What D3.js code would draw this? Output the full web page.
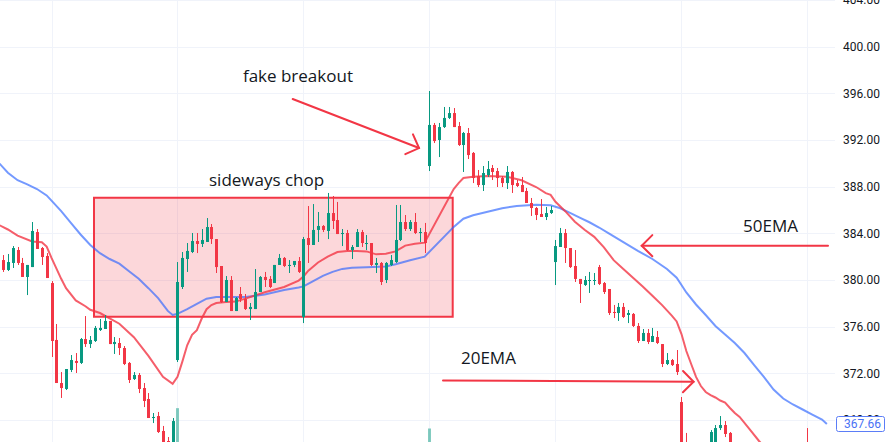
<!DOCTYPE html>
<html><head><meta charset="utf-8">
<script src="https://cdn.jsdelivr.net/npm/d3@7"></script>
<style>html,body{margin:0;padding:0;background:#fff;overflow:hidden}</style>
</head><body><svg id="c" width="886" height="442"></svg>
<script>
// ---- data (15-minute candles, index = bar number) ----
const openP=[381.71,380.86,381.46,382.57,381.46,380.26,381.11,384.11,382.74,382.06,
379.74,374.86,371.17,370.66,372.29,373.06,372.89,374.94,374.51,374.77,
375.71,375.80,376.49,374.51,374.60,374.17,372.89,371.51,371.86,370.74,
369.80,368.17,368.34,367.06,366.20,365.43,373.14,379.40,381.80,382.40,
383.34,383.09,383.26,384.54,383.51,381.20,378.11,380.00,377.34,378.80,
378.37,377.51,377.51,378.97,380.26,380.09,379.74,381.29,381.89,381.20,
381.29,381.63,376.83,383.60,383.00,384.29,384.63,384.20,385.74,385.14,
383.94,384.03,382.57,382.83,384.11,383.09,383.17,381.29,381.46,380.00,
381.29,381.54,383.43,384.97,384.37,384.97,384.07,384.11,389.77,393.29,
392.00,393.11,393.89,394.31,393.20,391.57,392.60,390.89,388.91,388.14,
389.00,389.60,389.34,388.74,388.31,389.26,388.31,388.14,387.63,386.60,
386.17,385.66,385.40,385.74,381.54,382.83,384.03,382.74,381.20,380.09,
379.57,379.96,379.96,381.11,379.74,379.23,377.26,377.17,377.69,377.00,
377.09,376.06,374.77,375.46,374.69,375.11,374.51,372.80,373.14,372.80,
369.54,364.40,363.71,364.74,363.89,365.00,365.00,365.43,367.31,367.57,
366.89,365.43,364.40,365.00,363.89,362.86,363.71,362.43,361.57,362.43,
361.83,361.14,362.00,361.31,362.17,361.49,365.86,363.71,363.03,363.54,362.60];
const highP=[382.14,382.23,382.91,382.83,381.89,381.29,384.97,384.37,382.83,382.31,
379.91,376.23,372.11,372.37,373.57,373.74,375.03,376.91,375.20,376.06,
376.66,377.00,376.49,375.11,375.03,374.34,372.97,372.11,372.03,371.17,
370.31,368.60,368.69,367.49,366.54,368.17,381.54,382.40,383.17,384.03,
384.03,384.37,385.31,384.80,383.51,381.20,380.34,380.34,378.54,379.40,
378.80,378.03,380.94,380.34,380.69,380.34,381.29,382.23,381.97,381.71,
381.63,381.97,383.69,386.34,386.51,385.83,384.71,387.46,387.20,386.69,
384.37,384.29,383.00,384.37,384.29,383.86,383.17,381.89,381.54,381.54,
382.14,386.43,386.43,385.57,385.14,385.74,384.46,384.89,396.20,393.46,
393.46,394.83,394.83,394.74,393.54,392.69,393.03,390.97,389.43,389.77,
390.20,389.86,389.60,388.91,389.77,389.34,388.57,388.83,387.89,387.03,
386.26,386.94,386.26,386.34,383.43,384.46,384.37,382.74,382.57,380.09,
380.34,380.69,380.60,381.29,379.83,379.23,377.86,378.03,378.03,377.43,
377.17,376.31,375.80,375.80,375.89,375.63,374.51,373.74,373.23,374.00,
369.97,366.89,365.00,365.43,365.60,366.03,367.14,367.57,368.34,367.91,
366.97,365.60,365.43,365.26,364.23,364.14,363.97,362.86,362.86,363.20,
362.17,362.43,362.34,362.51,362.69,362.00,367.31,364.14,363.89,363.71,363.03];
const lowP=[380.69,380.77,381.03,381.29,380.26,378.71,381.11,382.66,381.29,380.17,
373.40,371.17,369.89,370.57,372.11,372.03,372.80,374.26,374.17,374.69,
375.63,375.80,374.51,373.66,373.57,372.71,371.17,371.43,370.31,369.11,
368.17,367.74,366.89,365.43,364.74,365.26,372.97,379.23,380.69,382.31,
382.31,382.83,383.26,383.09,380.60,378.03,378.11,377.34,377.34,378.11,
377.43,376.57,377.51,378.97,379.40,379.31,379.74,381.29,381.11,380.60,
381.11,380.60,376.31,381.46,383.00,383.26,384.11,383.51,384.37,383.94,
382.91,382.49,381.80,382.83,382.83,382.57,381.20,380.60,379.57,379.74,
381.20,381.46,383.34,384.20,384.20,383.94,383.26,382.31,389.34,391.74,
390.54,393.03,393.80,393.11,391.49,389.26,390.37,388.31,387.97,387.63,
388.83,388.57,387.97,387.97,387.80,387.46,387.97,387.54,386.60,385.49,
385.14,385.40,385.14,385.66,379.57,382.83,381.46,381.03,379.83,378.03,
379.49,378.89,379.57,379.57,378.80,377.00,376.74,376.49,376.74,376.31,
375.97,374.60,374.77,374.51,374.69,374.51,372.54,372.71,372.63,371.86,
363.29,363.54,363.29,363.03,363.71,364.60,364.74,365.26,367.14,366.54,
365.00,364.14,364.06,363.54,362.43,362.60,362.00,361.14,361.31,361.49,
360.71,360.97,360.89,361.14,361.14,360.29,363.29,362.43,362.69,362.17,361.83];
const closeP=[380.86,381.54,382.74,381.46,380.26,381.29,384.20,382.66,381.97,380.17,
374.77,371.17,370.74,372.37,373.14,372.89,374.94,374.51,374.86,375.89,
375.89,376.49,374.51,374.69,374.17,372.80,371.43,371.86,370.66,369.63,
368.17,368.26,366.97,365.69,365.00,367.91,379.83,381.89,382.49,383.34,
383.09,383.43,384.54,383.51,381.11,378.11,380.00,377.34,378.46,378.37,
377.51,377.69,378.97,380.26,380.00,379.40,381.29,381.89,381.20,381.29,
381.63,380.69,383.51,383.00,384.29,384.63,384.29,385.74,385.06,383.94,
384.03,382.57,382.83,384.11,383.17,383.17,381.29,381.46,379.83,381.46,
381.71,383.43,384.97,384.37,384.97,384.03,384.11,383.17,393.29,391.91,
393.11,393.89,394.31,393.11,391.57,392.60,390.71,388.74,388.14,389.17,
389.51,389.26,388.74,388.31,389.26,388.14,388.06,387.54,386.60,386.17,
385.57,385.40,385.74,386.00,382.91,384.03,382.74,381.11,380.09,379.66,
380.00,380.00,380.00,379.66,378.97,377.17,377.17,377.69,376.83,377.17,
376.06,374.77,375.46,374.69,375.20,374.60,372.80,373.14,372.71,372.11,
363.71,363.89,364.57,363.71,365.00,365.86,366.97,367.31,367.57,366.80,
365.43,364.40,365.00,363.89,362.86,363.71,362.43,361.57,362.43,361.83,
361.14,362.00,361.31,362.17,361.49,360.71,363.71,363.03,363.54,362.60,362.17];

// volume (millions) – only the session-open bars reach into view
const volIdx=[36,88];
const volume=[2.75,2.25];

// EMA 20 / EMA 50 (bar index, value)
const ema20Idx=[-1,1,3,6,8,9,10,12,13,15,17,18,20,24,27,30,33,35,36,37,38,39,40,41,42,43,44,46,48,50,54,58,61,62,63,65,67,69,71,73,75,77,79,81,83,85,87,93,94,95,97,100,104,107,110,112,113,114,116,118,120,122,124,126,128,130,132,134,136,138,139,140,141,142,143,144,145,146,147,148,149,150,151,152,154,156,158,160,163,166,170];
const ema20=[384.75,384.33,383.80,383.30,383.24,382.86,381.90,380.10,379.30,378.25,377.75,377.45,377.17,376.25,375.10,373.50,371.70,371.10,371.70,373.00,374.40,375.30,375.70,376.70,377.50,377.85,378.03,378.11,378.15,378.40,378.95,379.40,379.95,380.30,380.80,381.50,382.00,382.40,382.49,382.49,382.45,382.20,382.25,382.45,382.95,383.10,383.20,387.80,388.30,388.74,388.85,388.92,388.85,388.55,387.97,387.45,387.30,386.70,385.90,385.00,384.30,383.70,382.80,381.70,380.95,380.20,379.45,378.65,377.85,376.95,376.45,375.37,373.91,372.80,371.69,370.91,370.40,370.14,369.93,369.67,369.50,369.03,368.60,368.26,367.23,366.20,365.26,364.40,363.37,362.51,361.66];
const ema50Idx=[-1,1,3,5,7,9,10,12,14,16,18,20,22,24,26,28,30,32,34,35,36,38,40,42,44,50,54,58,61,62,64,66,68,70,72,75,79,81,84,87,93,95,97,100,103,106,110,113,115,117,119,121,123,125,128,131,134,137,139,140,141,143,145,147,149,151,153,155,157,159,161,163,165,167,169,170];
const ema50=[390.10,389.20,388.55,388.20,387.80,387.25,386.80,385.90,384.90,383.90,383.00,382.30,381.80,381.40,380.75,380.10,379.30,378.45,377.35,377.00,377.10,377.50,377.95,378.40,378.55,378.55,378.75,379.15,379.35,379.45,379.90,380.35,380.70,380.95,381.05,381.10,381.15,381.35,381.70,382.00,384.55,385.25,385.55,385.85,386.15,386.35,386.45,386.40,386.15,385.75,385.35,384.95,384.50,384.00,383.25,382.50,381.80,380.95,380.20,379.57,378.93,377.90,377.00,376.06,375.33,374.60,373.74,372.71,371.69,370.61,369.84,369.33,368.90,368.47,368.04,367.66];

const priceTicks=[368,372,376,380,384,388,392,396,400,404];
const sessionStarts=[10,36,62,88,114,140,166];

// drawings (anchored in bar index / price)
const boxZone={i0:18.77,i1:92.79,pTop:387.05,pBot:376.85};
const noteText=["fake breakout","sideways chop","50EMA","20EMA"];
const noteIdx=[49.5,42.5,152.7,94.5];
const notePrice=[397.0,388.06,384.11,372.8];
const arrowFrom=[[59.77,395.51],[170.24,382.94],[90.79,371.39]];
const arrowTo=[[85.84,391.31],[131.79,382.94],[142.5,371.28]];

// ---- drawing ----
const W=886,H=442,plotW=835;
const svg=d3.select("#c");
const x=d3.scaleLinear().domain([0,170]).range([3.04,3.04+170*4.846]);
const y=d3.scaleLinear().domain([404,368]).range([0,420]);
const vy=d3.scaleLinear().domain([0,3]).range([520,398]);
const UP="#089981",DN="#f23645";

svg.append("defs").append("clipPath").attr("id","clip")
  .append("rect").attr("x",0).attr("y",0).attr("width",plotW).attr("height",H);

// grid
const grid=svg.append("g").attr("clip-path","url(#clip)");
grid.selectAll("line.h").data(priceTicks).join("line")
  .attr("x1",0).attr("x2",plotW)
  .attr("y1",d=>Math.round(y(d))+0.5).attr("y2",d=>Math.round(y(d))+0.5)
  .attr("stroke","#f0f3fa").attr("stroke-width",1);
grid.selectAll("line.v").data(sessionStarts).join("line")
  .attr("x1",d=>Math.round(x(d))+0.5).attr("x2",d=>Math.round(x(d))+0.5)
  .attr("y1",0).attr("y2",H)
  .attr("stroke","#f0f3fa").attr("stroke-width",1);

const plot=svg.append("g").attr("clip-path","url(#clip)");

// volume
plot.selectAll("rect.vol").data(volIdx).join("rect")
  .attr("x",(d)=>Math.round(x(d))-1).attr("width",3)
  .attr("y",(d,k)=>vy(volume[k])).attr("height",(d,k)=>vy(0)-vy(volume[k]))
  .attr("fill",d=>closeP[d]>=openP[d]?"rgba(8,153,129,0.5)":"rgba(242,54,69,0.5)");

// sideways rectangle
plot.append("rect")
  .attr("x",x(boxZone.i0)).attr("y",y(boxZone.pTop))
  .attr("width",x(boxZone.i1)-x(boxZone.i0)).attr("height",y(boxZone.pBot)-y(boxZone.pTop))
  .attr("fill","rgba(242,54,69,0.2)").attr("stroke","#f23645").attr("stroke-width",2);

// EMA lines
const line=d3.line().x(d=>x(d[0])).y(d=>y(d[1]));
plot.append("path").datum(ema50Idx.map((d,k)=>[d,ema50[k]]))
  .attr("d",line).attr("fill","none").attr("stroke","#2962ff").attr("stroke-opacity",0.65).attr("stroke-width",2);
plot.append("path").datum(ema20Idx.map((d,k)=>[d,ema20[k]]))
  .attr("d",line).attr("fill","none").attr("stroke","#f23645").attr("stroke-opacity",0.8).attr("stroke-width",2);

// candles
const idx=d3.range(openP.length);
const cg=plot.append("g");
cg.selectAll("rect.w").data(idx).join("rect")
  .attr("x",d=>Math.round(x(d))).attr("width",1)
  .attr("y",d=>y(highP[d])).attr("height",d=>Math.max(1,y(lowP[d])-y(highP[d])))
  .attr("fill",d=>closeP[d]>=openP[d]?UP:DN);
cg.selectAll("rect.b").data(idx).join("rect")
  .attr("x",d=>Math.round(x(d))-1).attr("width",3)
  .attr("y",d=>y(Math.max(openP[d],closeP[d])))
  .attr("height",d=>Math.max(1,Math.abs(y(openP[d])-y(closeP[d]))))
  .attr("fill",d=>closeP[d]>=openP[d]?UP:DN);

// arrows
const ag=plot.append("g").attr("stroke","#f23645").attr("stroke-width",2).attr("fill","none").attr("stroke-linecap","round");
arrowFrom.forEach((f,k)=>{
  const t=arrowTo[k];
  const x1=x(f[0]),y1=y(f[1]),x2=x(t[0]),y2=y(t[1]);
  ag.append("line").attr("x1",x1).attr("y1",y1).attr("x2",x2).attr("y2",y2);
  const a=Math.atan2(y1-y2,x1-x2),L=15,s=Math.PI/4;
  ag.append("path").attr("d",`M${x2+L*Math.cos(a+s)},${y2+L*Math.sin(a+s)}L${x2},${y2}L${x2+L*Math.cos(a-s)},${y2+L*Math.sin(a-s)}`);
});

// notes
plot.selectAll("text.note").data(noteText).join("text")
  .attr("x",(d,k)=>x(noteIdx[k])).attr("y",(d,k)=>y(notePrice[k]))
  .attr("font-family","'Open Sans',sans-serif").attr("font-size",17).attr("fill","#131722")
  .text(d=>d);

// price scale
svg.selectAll("text.tick").data(priceTicks).join("text")
  .attr("x",843).attr("y",d=>y(d)).attr("dy","0.35em")
  .attr("font-family","Roboto,sans-serif").attr("font-size",12).attr("fill","#131722")
  .text(d=>d3.format(".2f")(d));

// last value label of EMA50
const last=ema50[ema50.length-1];
const ly=y(last);
svg.append("rect").attr("x",836.5).attr("y",Math.round(ly)-7.5).attr("width",48).attr("height",15)
  .attr("rx",2).attr("fill","#fff").attr("stroke","#5b7df7").attr("stroke-width",1);
svg.append("text").attr("x",844).attr("y",Math.round(ly)).attr("dy","0.35em")
  .attr("font-family","Roboto,sans-serif").attr("font-size",12).attr("fill","#4a72f5")
  .text(d3.format(".2f")(last));
</script></body></html>
